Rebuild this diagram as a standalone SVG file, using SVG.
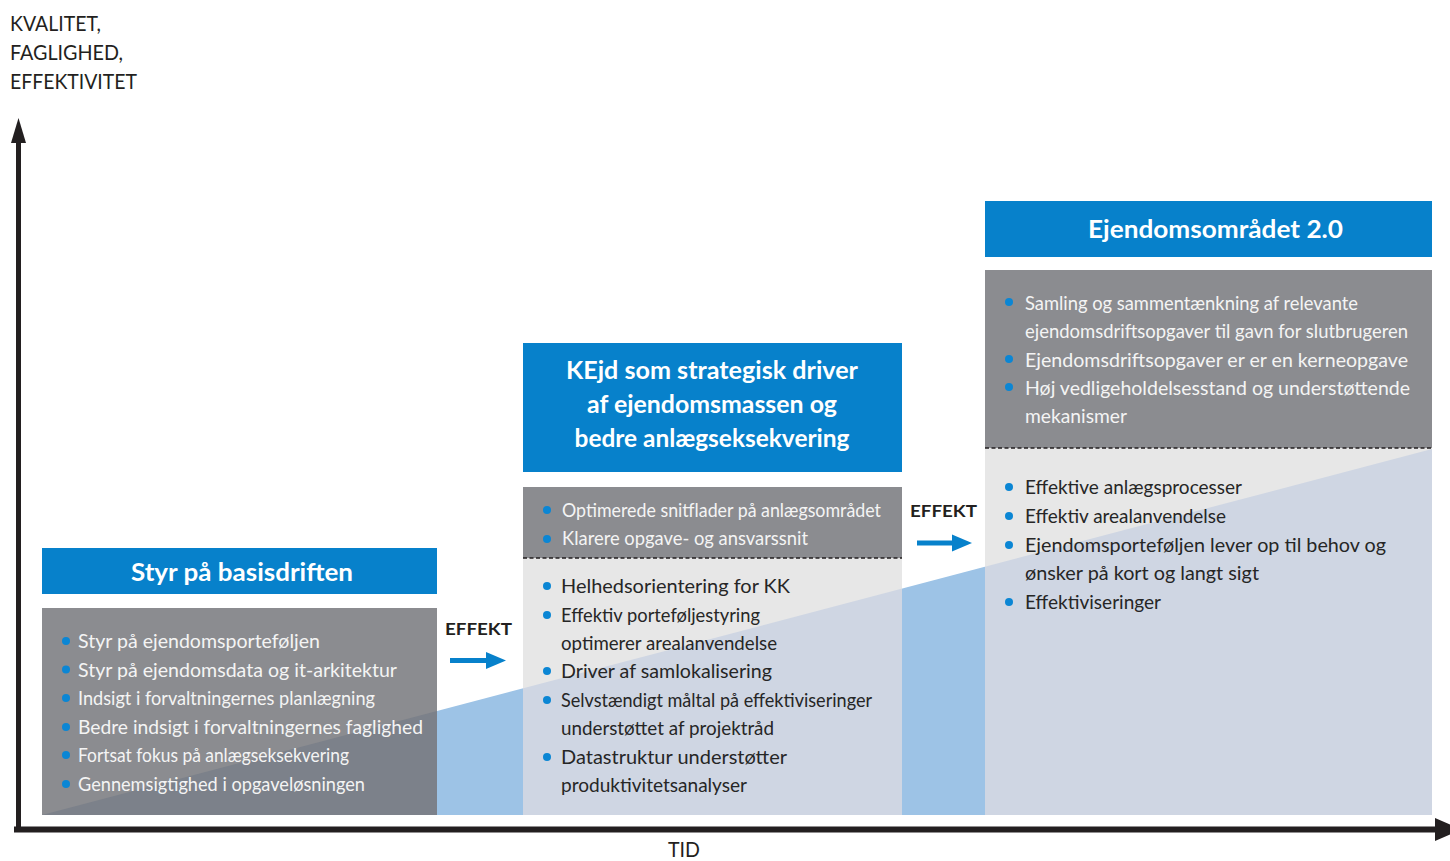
<svg xmlns="http://www.w3.org/2000/svg" width="1450" height="861" viewBox="0 0 1450 861">
  <style>
    .hdr { fill: #0781cb; }
    .gray { fill: #8b8c90; }
    .grayT { fill: #7c818a; }
    .light { fill: #e7e7e7; }
    .lightT { fill: #cfd6e3; }
    .title { font-family: Lato, "Open Sans", sans-serif; font-weight: bold; font-size: 25px; fill: #ffffff; text-anchor: middle; }
    .wt { font-family: Lato, "Open Sans", sans-serif; font-size: 20px; fill: #f4f4f4; }
    .sm { font-size: 19px; }
    .dk { font-family: Lato, "Open Sans", sans-serif; font-size: 20px; fill: #262626; }
    .bul { fill: #0b86d4; }
    .dash { stroke: #231f20; stroke-width: 1.5; stroke-dasharray: 4 2.5; fill: none; }
    .axis { font-family: Lato, "Open Sans", sans-serif; font-size: 21px; fill: #231f20; }
    .eff { font-family: Lato, "Open Sans", sans-serif; font-weight: bold; font-size: 17px; fill: #231f20; }
    .arr { fill: #0781cb; }
  </style>
  <defs>
    <clipPath id="rise">
      <polygon points="42,815 1432,449 1432,815"/>
    </clipPath>
  </defs>

  <rect width="1450" height="861" fill="#ffffff"/>

  <!-- rising wedge behind the stages -->
  <polygon id="wedge" points="42,815 1432,449 1432,815" fill="#9dc3e6"/>

  <!-- axes -->
  <g id="axes">
    <rect x="16" y="140" width="5" height="692" fill="#231f20"/>
    <polygon points="18.5,118 11,143 26,143" fill="#231f20"/>
    <rect x="14" y="826.5" width="1425" height="6" fill="#231f20"/>
    <polygon points="1435,818 1462,829.5 1435,841" fill="#231f20"/>
    <text class="axis" x="10" y="31" textLength="91" lengthAdjust="spacingAndGlyphs">KVALITET,</text>
    <text class="axis" x="10" y="60" textLength="113" lengthAdjust="spacingAndGlyphs">FAGLIGHED,</text>
    <text class="axis" x="10" y="89" textLength="127" lengthAdjust="spacingAndGlyphs">EFFEKTIVITET</text>
    <text class="axis" x="668" y="857" textLength="32" lengthAdjust="spacingAndGlyphs">TID</text>
  </g>

  <!-- stage 1 -->
  <g id="stage1">
    <rect class="hdr" x="42" y="548" width="395" height="46"/>
    <text class="title" x="242" y="581" textLength="222" lengthAdjust="spacingAndGlyphs">Styr på basisdriften</text>
    <rect class="gray" x="42" y="608" width="395" height="207"/>
    <rect class="grayT" x="42" y="608" width="395" height="207" clip-path="url(#rise)"/>
    <g>
      <circle class="bul" cx="66" cy="641" r="4"/>
      <circle class="bul" cx="66" cy="669.6" r="4"/>
      <circle class="bul" cx="66" cy="698" r="4"/>
      <circle class="bul" cx="66" cy="727" r="4"/>
      <circle class="bul" cx="66" cy="755" r="4"/>
      <circle class="bul" cx="66" cy="784" r="4"/>
    </g>
    <text class="wt" x="78" y="648" textLength="242" lengthAdjust="spacingAndGlyphs">Styr på ejendomsporteføljen</text>
    <text class="wt" x="78" y="676.6" textLength="319" lengthAdjust="spacingAndGlyphs">Styr på ejendomsdata og it-arkitektur</text>
    <text class="wt" x="78" y="705" textLength="297" lengthAdjust="spacingAndGlyphs">Indsigt i forvaltningernes planlægning</text>
    <text class="wt" x="78" y="734" textLength="345" lengthAdjust="spacingAndGlyphs">Bedre indsigt i forvaltningernes faglighed</text>
    <text class="wt" x="78" y="762" textLength="271" lengthAdjust="spacingAndGlyphs">Fortsat fokus på anlægseksekvering</text>
    <text class="wt" x="78" y="791" textLength="287" lengthAdjust="spacingAndGlyphs">Gennemsigtighed i opgaveløsningen</text>
  </g>

  <!-- stage 2 -->
  <g id="stage2">
    <rect class="hdr" x="523" y="343" width="379" height="129"/>
    <text class="title" x="712" y="379" textLength="292" lengthAdjust="spacingAndGlyphs">KEjd som strategisk driver</text>
    <text class="title" x="712" y="413" textLength="250" lengthAdjust="spacingAndGlyphs">af ejendomsmassen og</text>
    <text class="title" x="712" y="447" textLength="275" lengthAdjust="spacingAndGlyphs">bedre anlægseksekvering</text>
    <rect class="gray" x="523" y="487" width="379" height="71"/>
    <rect class="light" x="523" y="558" width="379" height="257"/>
    <rect class="lightT" x="523" y="558" width="379" height="257" clip-path="url(#rise)"/>
    <line class="dash" x1="523" y1="558" x2="902" y2="558"/>
    <g>
      <circle class="bul" cx="547" cy="510" r="4"/>
      <circle class="bul" cx="547" cy="539" r="4"/>
      <circle class="bul" cx="547" cy="586" r="4"/>
      <circle class="bul" cx="547" cy="615" r="4"/>
      <circle class="bul" cx="547" cy="671" r="4"/>
      <circle class="bul" cx="547" cy="700" r="4"/>
      <circle class="bul" cx="547" cy="757" r="4"/>
    </g>
    <text class="wt sm" x="562" y="517" textLength="319" lengthAdjust="spacingAndGlyphs">Optimerede snitflader på anlægsområdet</text>
    <text class="wt sm" x="562" y="545" textLength="246" lengthAdjust="spacingAndGlyphs">Klarere opgave- og ansvarssnit</text>
    <text class="dk" x="561" y="593" textLength="229" lengthAdjust="spacingAndGlyphs">Helhedsorientering for KK</text>
    <text class="dk" x="561" y="622" textLength="199" lengthAdjust="spacingAndGlyphs">Effektiv porteføljestyring</text>
    <text class="dk" x="561" y="650" textLength="216" lengthAdjust="spacingAndGlyphs">optimerer arealanvendelse</text>
    <text class="dk" x="561" y="678" textLength="211" lengthAdjust="spacingAndGlyphs">Driver af samlokalisering</text>
    <text class="dk" x="561" y="707" textLength="311" lengthAdjust="spacingAndGlyphs">Selvstændigt måltal på effektiviseringer</text>
    <text class="dk" x="561" y="735" textLength="213" lengthAdjust="spacingAndGlyphs">understøttet af projektråd</text>
    <text class="dk" x="561" y="764" textLength="226" lengthAdjust="spacingAndGlyphs">Datastruktur understøtter</text>
    <text class="dk" x="561" y="792" textLength="186" lengthAdjust="spacingAndGlyphs">produktivitetsanalyser</text>
  </g>

  <!-- stage 3 -->
  <g id="stage3">
    <rect class="hdr" x="985" y="201" width="447" height="56"/>
    <text class="title" x="1215.5" y="238" textLength="255" lengthAdjust="spacingAndGlyphs">Ejendomsområdet 2.0</text>
    <rect class="gray" x="985" y="270" width="447" height="178"/>
    <rect class="light" x="985" y="448" width="447" height="367"/>
    <rect class="lightT" x="985" y="448" width="447" height="367" clip-path="url(#rise)"/>
    <line class="dash" x1="985" y1="448" x2="1432" y2="448"/>
    <g>
      <circle class="bul" cx="1009" cy="302" r="4"/>
      <circle class="bul" cx="1009" cy="359" r="4"/>
      <circle class="bul" cx="1009" cy="387" r="4"/>
      <circle class="bul" cx="1009" cy="487" r="4"/>
      <circle class="bul" cx="1009" cy="516" r="4"/>
      <circle class="bul" cx="1009" cy="545" r="4"/>
      <circle class="bul" cx="1009" cy="602" r="4"/>
    </g>
    <text class="wt" x="1025" y="310" textLength="333" lengthAdjust="spacingAndGlyphs">Samling og sammentænkning af relevante</text>
    <text class="wt" x="1025" y="338" textLength="383" lengthAdjust="spacingAndGlyphs">ejendomsdriftsopgaver til gavn for slutbrugeren</text>
    <text class="wt" x="1025" y="367" textLength="383" lengthAdjust="spacingAndGlyphs">Ejendomsdriftsopgaver er er en kerneopgave</text>
    <text class="wt" x="1025" y="395" textLength="385" lengthAdjust="spacingAndGlyphs">Høj vedligeholdelsesstand og understøttende</text>
    <text class="wt" x="1025" y="423" textLength="102" lengthAdjust="spacingAndGlyphs">mekanismer</text>
    <text class="dk" x="1025" y="494" textLength="217" lengthAdjust="spacingAndGlyphs">Effektive anlægsprocesser</text>
    <text class="dk" x="1025" y="523" textLength="201" lengthAdjust="spacingAndGlyphs">Effektiv arealanvendelse</text>
    <text class="dk" x="1025" y="552" textLength="361" lengthAdjust="spacingAndGlyphs">Ejendomsporteføljen lever op til behov og</text>
    <text class="dk" x="1025" y="580" textLength="234" lengthAdjust="spacingAndGlyphs">ønsker på kort og langt sigt</text>
    <text class="dk" x="1025" y="609" textLength="136" lengthAdjust="spacingAndGlyphs">Effektiviseringer</text>
  </g>

  <!-- effect transitions between stages -->
  <g id="connectors">
    <g id="effect1">
      <text class="eff" x="445" y="635" textLength="67" lengthAdjust="spacingAndGlyphs">EFFEKT</text>
      <rect class="arr" x="450" y="658" width="38" height="5"/>
      <polygon class="arr" points="486,652 506,660.5 486,669"/>
    </g>
    <g id="effect2">
      <text class="eff" x="910" y="517" textLength="67" lengthAdjust="spacingAndGlyphs">EFFEKT</text>
      <rect class="arr" x="917" y="540.5" width="37" height="5"/>
      <polygon class="arr" points="952,534.5 972,543 952,551.5"/>
    </g>
  </g>
</svg>
